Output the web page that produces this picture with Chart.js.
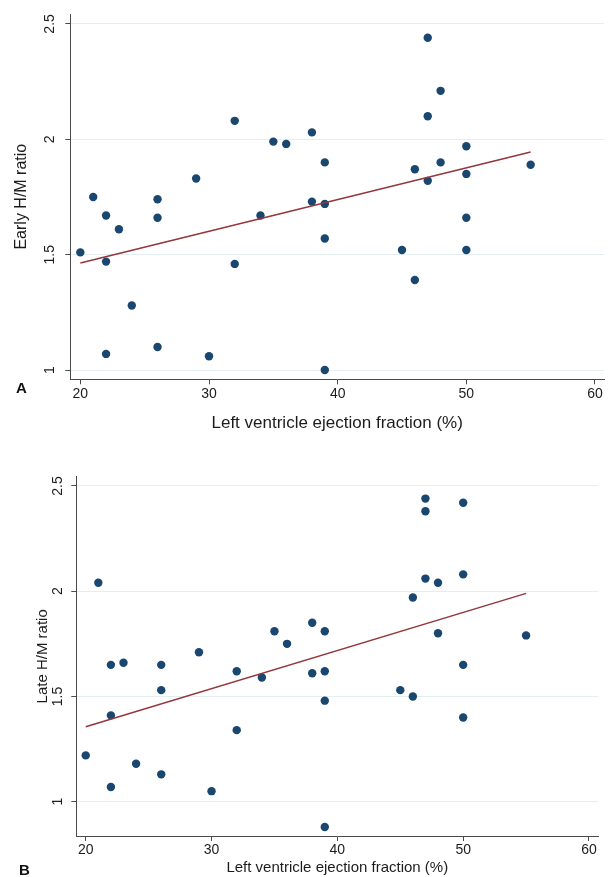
<!DOCTYPE html>
<html>
<head>
<meta charset="utf-8">
<script src="https://cdn.jsdelivr.net/npm/chart.js@4/dist/chart.umd.min.js"></script>
<style>
  html, body { margin: 0; padding: 0; background: #fff; }
  body { width: 611px; height: 877px; position: relative; overflow: hidden; font-family: "Liberation Sans", Arial, sans-serif; }
  canvas { position: absolute; left: 0; }
  #chart-a { top: 0; }
  #chart-b { top: 440px; }
  .panel-tag { position: absolute; font-weight: bold; font-size: 15px; color: #111; line-height: 1; }
</style>
</head>
<body>
<canvas id="chart-a" width="611" height="440"></canvas>
<canvas id="chart-b" width="611" height="437"></canvas>
<div class="panel-tag" style="left:16px; top:380px;">A</div>
<div class="panel-tag" style="left:19px; top:862px;">B</div>
<script>
// LVEF (%) vs early / late heart-to-mediastinum ratio, one point per patient
var EF = [20, 21, 22, 22, 22, 23, 24, 26, 26, 26, 29, 30, 32, 32, 34, 35, 36, 38, 38,
          39, 39, 39, 39, 45, 46, 46, 47, 47, 47, 48, 48, 50, 50, 50, 50, 55];
var EARLY = [1.51, 1.75, 1.67, 1.47, 1.07, 1.61, 1.28, 1.74, 1.66, 1.10, 1.83, 1.06, 2.08, 1.46, 1.67, 1.99, 1.98, 2.03, 1.73,
             1.90, 1.72, 1.57, 1.00, 1.52, 1.87, 1.39, 2.44, 2.10, 1.82, 2.21, 1.90, 1.97, 1.85, 1.66, 1.52, 1.89];
var LATE = [1.22, 2.04, 1.65, 1.41, 1.07, 1.66, 1.18, 1.65, 1.53, 1.13, 1.71, 1.05, 1.62, 1.34, 1.59, 1.81, 1.75, 1.85, 1.61,
            1.81, 1.62, 1.48, 0.88, 1.53, 1.97, 1.50, 2.44, 2.38, 2.06, 2.04, 1.80, 2.42, 2.08, 1.65, 1.40, 1.79];
// linear fit endpoints
var FIT_X = [20, 55];
var FIT_EARLY = [1.464, 1.945];
var FIT_LATE = [1.356, 1.99];
var X_TICKS = [20, 30, 40, 50, 60];
var Y_TICKS = [1, 1.5, 2, 2.5];

var COL = { dot: "#1a476f", fit: "#93353b", axis: "#4a4a4a", grid: "#e3eef1", text: "#1c1c1c" };
var FONT = "'Liberation Sans', Arial, sans-serif";

function pts(xs, ys) { return xs.map(function (x, i) { return { x: x, y: ys[i] }; }); }
function fixTicks(vals) { return function (s) { s.ticks = vals.map(function (v) { return { value: v }; }); }; }

function scatter(canvasId, ys, fitY, yTitle, lay) {
  var c = document.getElementById(canvasId);
  new Chart(c, {
    type: "scatter",
    data: {
      datasets: [
        { type: "line", data: pts(FIT_X, fitY), borderColor: COL.fit, borderWidth: 1.4,
          pointRadius: 0, fill: false, tension: 0 },
        { data: pts(EF, ys), backgroundColor: COL.dot, borderColor: COL.dot, pointRadius: 4.2, borderWidth: 0 }
      ]
    },
    options: {
      responsive: false, animation: false, devicePixelRatio: 1,
      layout: { padding: lay.padding },
      plugins: { legend: { display: false }, tooltip: { enabled: false } },
      scales: {
        x: {
          type: "linear", min: lay.xMin, max: lay.xMax,
          afterBuildTicks: fixTicks(X_TICKS),
          afterFit: function (s) { s.height = lay.xH; },
          grid: { drawOnChartArea: false, tickLength: 5, tickColor: COL.axis },
          border: { color: COL.axis, width: 1 },
          ticks: { padding: lay.xPad, color: COL.text, font: { family: FONT, size: 14 },
            maxRotation: 0, callback: function (v) { return String(v); } },
          title: { display: true, text: "Left ventricle ejection fraction (%)", color: COL.text,
            font: { family: FONT, size: lay.xTitle, lineHeight: 1 }, padding: 0 }
        },
        y: {
          type: "linear", min: lay.yMin, max: lay.yMax,
          afterBuildTicks: fixTicks(Y_TICKS),
          afterFit: function (s) { s.width = lay.yW; },
          grid: { color: COL.grid, lineWidth: 1, tickLength: 5, tickColor: COL.axis },
          border: { color: COL.axis, width: 1 },
          ticks: { padding: lay.yPad, color: COL.text, font: { family: FONT, size: 14 },
            minRotation: 90, maxRotation: 90, crossAlign: "center",
            callback: function (v) { return String(v); } },
          title: { display: true, text: yTitle, color: COL.text,
            font: { family: FONT, size: lay.yTitle, lineHeight: 1 }, padding: { top: lay.yTitlePad, bottom: 0 } }
        }
      }
    }
  });
}

scatter("chart-a", EARLY, FIT_EARLY, "Early H/M ratio", {
  padding: { left: 0, top: 12.7, right: 7, bottom: 8.5 },
  xMin: 19.22, xMax: 60.7, yMin: 0.96, yMax: 2.543,
  xH: 52.2, yW: 70.3, xPad: 1.5, yPad: 5.6, xTitle: 17, yTitle: 16, yTitlePad: 13.7
});

scatter("chart-b", LATE, FIT_LATE, "Late H/M ratio", {
  padding: { left: 0, top: 36.7, right: 12.7, bottom: 1.5 },
  xMin: 19.25, xMax: 60.74, yMin: 0.837, yMax: 2.544,
  xH: 39.5, yW: 76.3, xPad: 1.1, yPad: 3, xTitle: 15, yTitle: 15, yTitlePad: 35
});
</script>
</body>
</html>
